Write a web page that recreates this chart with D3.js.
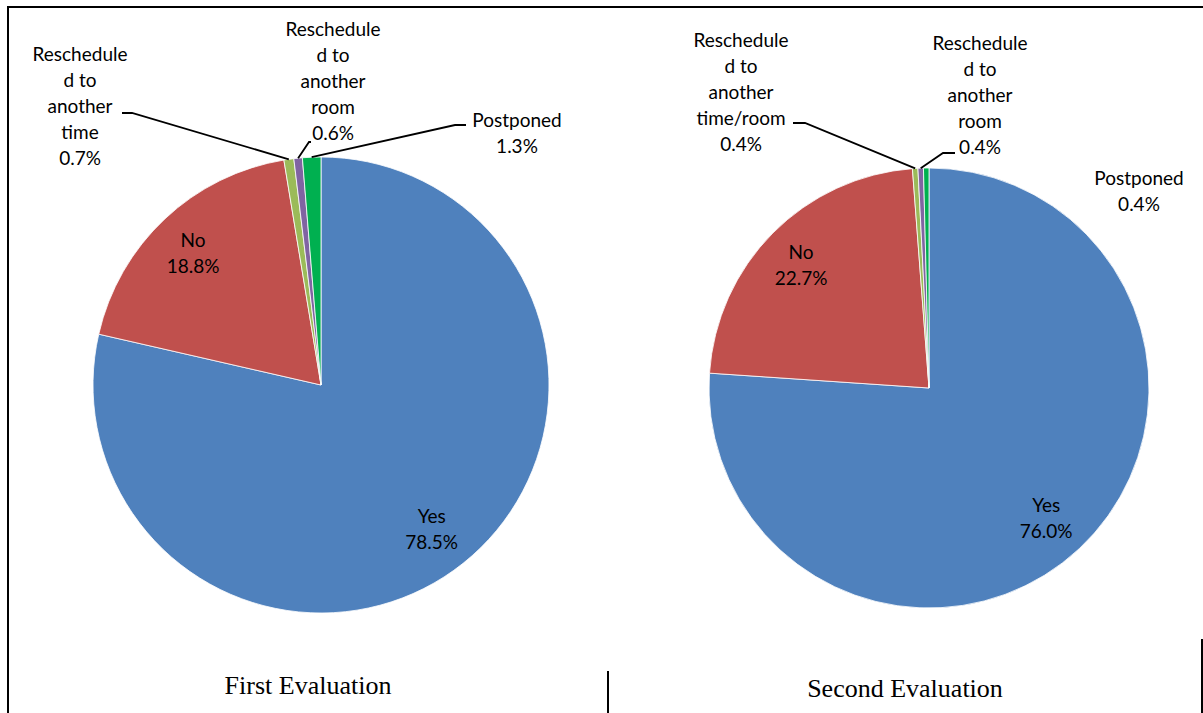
<!DOCTYPE html>
<html>
<head>
<meta charset="utf-8">
<script src="https://cdn.jsdelivr.net/npm/d3@7"></script>
<style>
  html, body { margin: 0; padding: 0; background: #fff; }
  svg { display: block; }
  .lbl { font-family: Lato, "Open Sans", sans-serif; font-size: 19px; fill: #000; }
  .title { font-family: "Liberation Serif", "Times New Roman", serif; font-size: 26px; fill: #000; }
</style>
</head>
<body>
<svg id="chart" width="1203" height="713"></svg>
<script>
// Response shares for each evaluation round (percent of cases)
const firstCategories = [["Yes"], ["No"], ["Reschedule", "d to", "another", "time"], ["Reschedule", "d to", "another", "room"], ["Postponed"]];
const firstValues = [78.5, 18.8, 0.7, 0.6, 1.3];

const secondCategories = [["Yes"], ["No"], ["Reschedule", "d to", "another", "time/room"], ["Reschedule", "d to", "another", "room"], ["Postponed"]];
const secondValues = [76.0, 22.7, 0.4, 0.4, 0.4];

const titles = ["First Evaluation", "Second Evaluation"];

const sliceColors = ["#4F81BD", "#C0504D", "#9BBB59", "#8064A2", "#00B050"];

// Placement of each pie and of labels that sit outside the pie
const panels = [
  {
    categories: firstCategories, values: firstValues, title: titles[0],
    cx: 321, cy: 385, r: 228, titleX: 308, titleY: 694,
    outside: {
      2: { x: 80, y: 61, elbow: [132, 113], end: [122, 113] },
      3: { x: 333, y: 36, elbow: [309, 142], end: [311, 142] },
      4: { x: 517, y: 127, elbow: [455, 125], end: [466, 125] }
    }
  },
  {
    categories: secondCategories, values: secondValues, title: titles[1],
    cx: 929, cy: 388, r: 220, titleX: 905, titleY: 697,
    outside: {
      2: { x: 741, y: 47, elbow: [805, 123], end: [793, 123] },
      3: { x: 980, y: 50, elbow: [943, 153], end: [955, 153] },
      4: { x: 1139, y: 185 }
    }
  }
];

const svg = d3.select("#chart");
const lineGap = 26;
const pct = v => d3.format(".1f")(v) + "%";

const pie = d3.pie().sort(null).value(d => d);

panels.forEach(p => {
  const g = svg.append("g").attr("transform", `translate(${p.cx},${p.cy})`);
  const arcs = pie(p.values);
  const arc = d3.arc().innerRadius(0).outerRadius(p.r);
  const labelArc = d3.arc().innerRadius(p.r * 0.8).outerRadius(p.r * 0.8);
  const edgeArc = d3.arc().innerRadius(p.r).outerRadius(p.r);

  g.selectAll("path.slice")
    .data(arcs)
    .join("path")
    .attr("class", "slice")
    .attr("d", arc)
    .attr("fill", (d, i) => sliceColors[i])
    .attr("stroke", "#fff")
    .attr("stroke-width", 0.8);

  arcs.forEach((d, i) => {
    const lines = p.categories[i].concat([pct(p.values[i])]);
    const o = p.outside[i];
    let x, y0;
    if (o) {
      x = o.x - p.cx;
      y0 = o.y - p.cy;
      if (o.elbow) {
        const [ex, ey] = edgeArc.centroid(d);
        g.append("polyline")
          .attr("points", [[ex, ey], [o.elbow[0] - p.cx, o.elbow[1] - p.cy], [o.end[0] - p.cx, o.end[1] - p.cy]].map(q => q.join(",")).join(" "))
          .attr("fill", "none")
          .attr("stroke", "#000")
          .attr("stroke-width", 1.8);
      }
    } else {
      const [lx, ly] = labelArc.centroid(d);
      x = lx - 3;
      y0 = ly - (lines.length - 1) * lineGap / 2 + 8;
    }
    const t = g.append("text").attr("class", "lbl").attr("text-anchor", "middle");
    lines.forEach((s, k) => {
      t.append("tspan").attr("x", x).attr("y", y0 + k * lineGap).text(s);
    });
  });

  svg.append("text")
    .attr("class", "title")
    .attr("x", p.titleX)
    .attr("y", p.titleY)
    .attr("text-anchor", "middle")
    .text(p.title);
});

// Frame lines around the two panels
const frame = [
  [[7, 7], [1203, 7]],
  [[8, 6], [8, 713]],
  [[608, 671], [608, 713]],
  [[1202, 639], [1202, 713]]
];
svg.selectAll("line.frame")
  .data(frame)
  .join("line")
  .attr("class", "frame")
  .attr("x1", d => d[0][0]).attr("y1", d => d[0][1])
  .attr("x2", d => d[1][0]).attr("y2", d => d[1][1])
  .attr("stroke", "#000")
  .attr("stroke-width", 2);
</script>
</body>
</html>
